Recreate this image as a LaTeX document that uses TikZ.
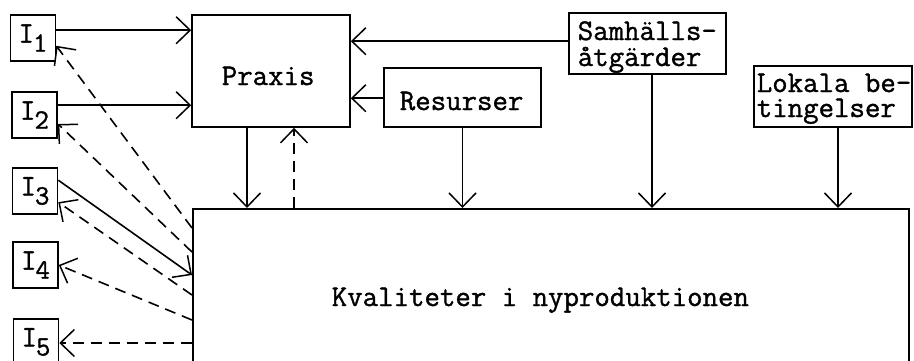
\documentclass[tikz,border=0pt]{standalone}
\usepackage{fontspec}
\usetikzlibrary{arrows.meta,calc}

% heavier typewriter face for all labels
\newfontfamily\typew{Latin Modern Mono}[FakeBold=1.2]
% typewriter-style labels with a lowered index digit
\newcommand\ilabel[1]{I\kern-1pt\raisebox{-9pt}{\fontsize{28}{28}\selectfont #1}}

\begin{document}
\begin{tikzpicture}[x=1pt,y=-1pt,
  line width=1.6pt,
  font=\fontsize{30}{26}\typew,
  box/.style={draw, inner sep=0pt, line width=1.6pt},
  ibox/.style={box, minimum width=45pt, minimum height=46pt},
  txt/.style={anchor=base west, inner sep=0pt},
  lower/.style={txt, text height=15pt},
  vtip/.style={-{Straight Barb[length=14pt,width=27pt,line width=1.5pt]}},
  back/.style={vtip, dash pattern=on 11pt off 7pt},
]
\useasboundingbox (0,0) rectangle (914,360);
\clip (0,0) rectangle (914,360);

% index boxes on the left
\node[ibox] (I1) at (33,38)    {\ilabel{1}};
\node[ibox] (I2) at (34.5,115) {\ilabel{2}};
\node[ibox] (I3) at (35,191)   {\ilabel{3}};
\node[ibox] (I4) at (35.5,265) {\ilabel{4}};
\node[ibox] (I5) at (36,342)   {\ilabel{5}};

% upper blocks
\node[box, minimum width=158pt, minimum height=112pt] (P) at (271,71) {};
\node[txt] (Pt) at (221,85) {Praxis};
\node[box, minimum width=157pt, minimum height=59pt] (R) at (462.5,97.5) {};
\node[txt] (Rt) at (399,110) {Resurser};
\node[box, minimum width=157pt, minimum height=61pt] (S) at (647.5,43.5) {};
\node[txt] (St1) at (577,40) {Samhälls-};
\node[lower] (St2) at (577,66) {åtgärder};
\node[box, minimum width=158pt, minimum height=61pt] (L) at (833,96.5) {};
\node[txt] (Lt1) at (756,92) {Lokala be-};
\node[lower] (Lt2) at (756,117) {tingelser};

% main block, running past the lower edge
\node[box, anchor=north west, minimum width=716pt, minimum height=200pt] (K) at (192,208) {};
\node[txt] (Kt) at (331,306) {Kvaliteter i nyproduktionen};

% connector ends on the index boxes
\coordinate (a1) at ($(I1.north east)+(0,16)$);
\coordinate (a2) at ($(I2.north east)+(0,14)$);
\coordinate (b1) at ($(I1.south east)+(0,-16)$);
\coordinate (b2) at ($(I2.south east)+(0,-15)$);
\coordinate (c3) at ($(I3.north east)+(0,13)$);
\coordinate (d3) at ($(I3.north east)+(0,35)$);

% connector ends on the upper blocks
\coordinate (s1) at ($(S.north west)+(0,29)$);
\coordinate (r1) at ($(R.north west)+(0,31)$);
\coordinate (p1) at ($(P.south)+(-24,0)$);
\coordinate (p2) at ($(P.south)+(23,0)$);
\coordinate (s2) at ($(S.south)+(4.5,0)$);
\coordinate (l2) at ($(L.south)+(5,0)$);

% points on the left side of the main block
\coordinate (k1) at ($(K.north west)+(0,20)$);
\coordinate (k2) at ($(K.north west)+(0,44)$);
\coordinate (k3) at ($(K.north west)+(0,67)$);
\coordinate (k4) at ($(K.north west)+(0,87)$);
\coordinate (k5) at ($(K.north west)+(0,112)$);
\coordinate (k6) at ($(K.north west)+(0,135)$);

% influences into Praxis
\draw[vtip] (a1) -- (a1 -| P.west);
\draw[vtip] (a2) -- (a2 -| P.west);
\draw[vtip] (s1) -- (s1 -| P.east);
\draw[vtip] (r1) -- (r1 -| P.east);

% downward influences on the main block
\draw[vtip] (p1) -- (p1 |- K.north);
\draw[back] (p2 |- K.north) -- (p2);
\draw[vtip] (R.south) -- (R.south |- K.north);
\draw[vtip] (s2) -- (s2 |- K.north);
\draw[vtip] (l2) -- (l2 |- K.north);

% links between the index boxes and the main block
\draw[back] (k1) -- (b1);
\draw[back] (k2) -- (b2);
\draw[vtip] (c3) -- (k3);
\draw[back] (k4) -- (d3);
\draw[back] (k5) -- (I4.east);
\draw[back] (k6) -- (k6 -| I5.east);
\end{tikzpicture}
\end{document}
